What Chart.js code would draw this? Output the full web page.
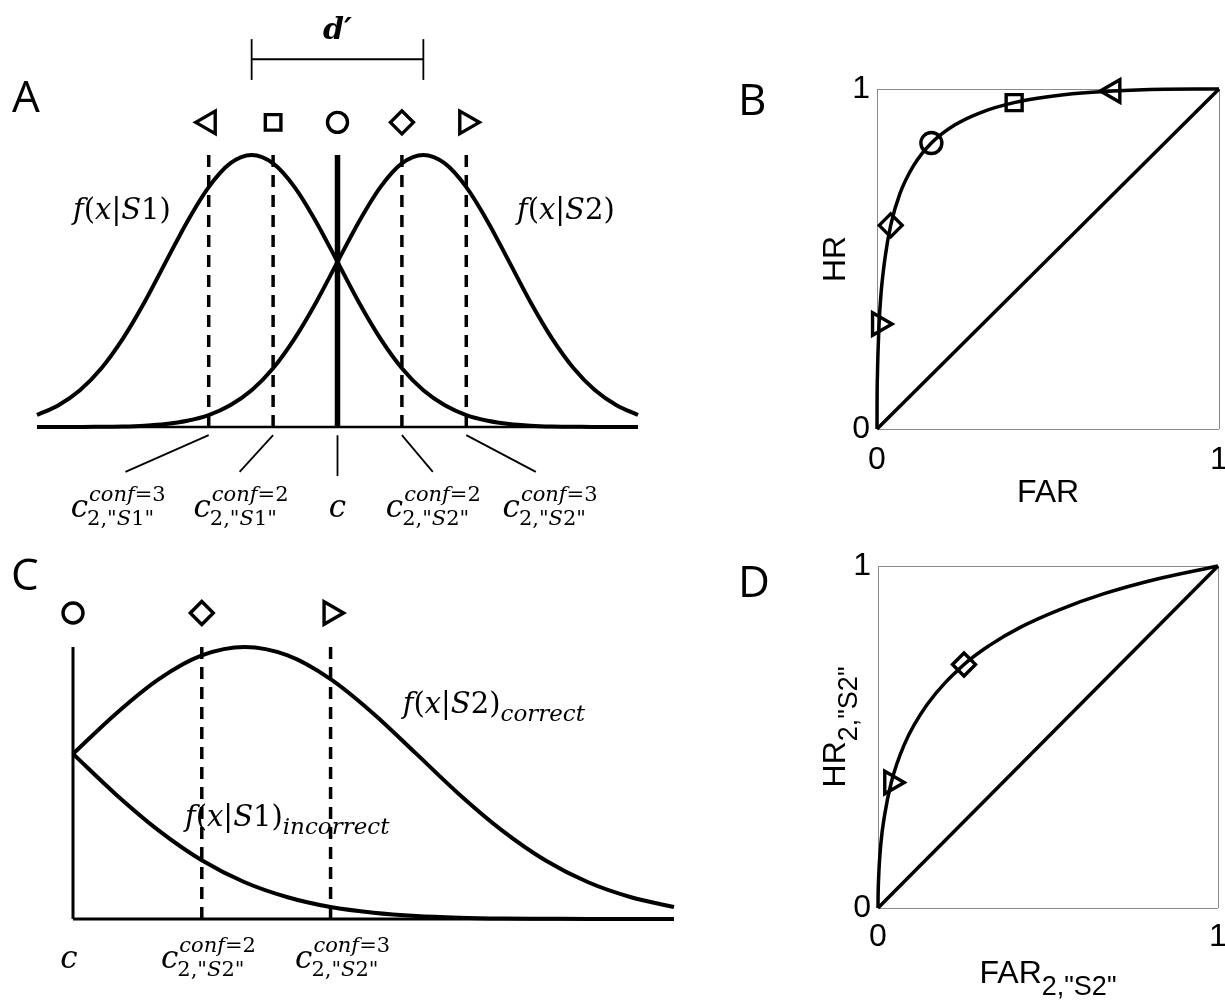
<!DOCTYPE html>
<html>
<head>
<meta charset="utf-8">
<script src="https://cdn.jsdelivr.net/npm/chart.js@4.4.1/dist/chart.umd.min.js"></script>
<style>
  html, body { margin: 0; padding: 0; background: #fff; overflow: hidden; }
  body { width: 1225px; height: 1004px; position: relative; }
  .panel { position: absolute; }
</style>
</head>
<body>
<div class="panel" style="left:0;top:0;width:660px;height:530px"><canvas id="chart-a"></canvas></div>
<div class="panel" style="left:730px;top:40px;width:495px;height:500px"><canvas id="chart-b"></canvas></div>
<div class="panel" style="left:0;top:540px;width:700px;height:464px"><canvas id="chart-c"></canvas></div>
<div class="panel" style="left:730px;top:520px;width:495px;height:484px"><canvas id="chart-d"></canvas></div>
<script>
/* ── data ── */

// A: decision axis (units of sigma), curve heights relative to peak
const xA  = [-3.5, -3.25, -3, -2.75, -2.5, -2.25, -2, -1.75, -1.5, -1.25, -1, -0.75, -0.5, -0.25, 0,
             0.25, 0.5, 0.75, 1, 1.25, 1.5, 1.75, 2, 2.25, 2.5, 2.75, 3, 3.25, 3.5];
const fS1 = [0.044, 0.080, 0.135, 0.216, 0.325, 0.458, 0.607, 0.755, 0.882, 0.969, 1, 0.969, 0.882, 0.755, 0.607,
             0.458, 0.325, 0.216, 0.135, 0.080, 0.044, 0.023, 0.011, 0.005, 0.002, 0.001, 0, 0, 0];
const fS2 = [0, 0, 0, 0.001, 0.002, 0.005, 0.011, 0.023, 0.044, 0.080, 0.135, 0.216, 0.325, 0.458, 0.607,
             0.755, 0.882, 0.969, 1, 0.969, 0.882, 0.755, 0.607, 0.458, 0.325, 0.216, 0.135, 0.080, 0.044];
const meansA = [-1, 1];
const critA  = [-1.5, -0.75, 0, 0.75, 1.5];

// C: right of c only
const xC         = [0, 0.25, 0.5, 0.75, 1, 1.25, 1.5, 1.75, 2, 2.25, 2.5, 2.75, 3, 3.25, 3.5];
const fCorrect   = [0.607, 0.755, 0.882, 0.969, 1, 0.969, 0.882, 0.755, 0.607, 0.458, 0.325, 0.216, 0.135, 0.080, 0.044];
const fIncorrect = [0.607, 0.458, 0.325, 0.216, 0.135, 0.080, 0.044, 0.023, 0.011, 0.005, 0.002, 0.001, 0, 0, 0];
const critC      = [0, 0.75, 1.5];

// B: type 1 ROC
const farB    = [0, 0.0001, 0.0002, 0.0013, 0.003, 0.006, 0.012, 0.023, 0.040, 0.067, 0.106, 0.159,
                 0.227, 0.309, 0.401, 0.5, 0.599, 0.691, 0.841, 0.933, 1];
const hrB     = [0, 0.023, 0.067, 0.159, 0.227, 0.309, 0.401, 0.5, 0.599, 0.692, 0.773, 0.841,
                 0.894, 0.933, 0.960, 0.977, 0.988, 0.994, 0.999, 1, 1];
const farPtsB = [0.006, 0.040, 0.159, 0.401, 0.691];
const hrPtsB  = [0.309, 0.599, 0.841, 0.960, 0.994];

// D: type 2 ROC for "S2" responses
const farD    = [0, 0.0002, 0.0015, 0.0085, 0.019, 0.039, 0.077, 0.144, 0.253, 0.328, 0.421, 0.533, 0.665, 0.821, 1];
const hrD     = [0, 0.027, 0.079, 0.189, 0.269, 0.367, 0.477, 0.594, 0.712, 0.768, 0.822, 0.872, 0.919, 0.962, 1];
const farPtsD = [0.039, 0.253];
const hrPtsD  = [0.367, 0.712];

/* ── helpers ── */
const black = '#000';

function serif(size, italic, bold) {
  return (italic ? 'italic ' : '') + (bold ? 'bold ' : '') + size + 'px "DejaVu Serif", serif';
}
function sans(size) {
  return size + 'px "Liberation Sans", Arial, sans-serif';
}

// runs: [[text, italic], ...]
function runsWidth(ctx, runs, size) {
  return runs.reduce((w, [t, it]) => { ctx.font = serif(size, it); return w + ctx.measureText(t).width; }, 0);
}
function drawRuns(ctx, runs, size, x, y) {
  runs.forEach(([t, it]) => {
    ctx.font = serif(size, it);
    ctx.fillText(t, x, y);
    x += ctx.measureText(t).width;
  });
  return x;
}
function fOf(n) {
  return [['f', true], ['(', false], ['x', true], ['|', false], ['S', true], [n + ')', false]];
}
// c with conf superscript and response subscript, centred on cx
function drawCrit(ctx, cx, base, conf, resp) {
  const main = [['c', true]];
  const sup  = conf ? [['conf', true], ['=' + conf, false]] : null;
  const sub  = resp ? [['2,"', false], ['S', true], [resp.slice(1) + '"', false]] : null;
  const wMain = runsWidth(ctx, main, 31);
  const wScr  = Math.max(sup ? runsWidth(ctx, sup, 21) : 0, sub ? runsWidth(ctx, sub, 21) : 0);
  const x0 = cx - (wMain + wScr) / 2;
  drawRuns(ctx, main, 31, x0, base);
  if (sup) drawRuns(ctx, sup, 21, x0 + wMain + 1, base - 16);
  if (sub) drawRuns(ctx, sub, 21, x0 + wMain - 1, base + 8);
}

function pts(xs, ys) { return xs.map((x, i) => ({ x, y: ys[i] })); }

function curve(xs, ys, width) {
  return { data: pts(xs, ys), showLine: true, borderColor: black, borderWidth: width,
           pointRadius: 0, cubicInterpolationMode: 'monotone', clip: false };
}
function seg(data, width, dash) {
  return { data, showLine: true, borderColor: black, borderWidth: width, borderDash: dash || [],
           pointRadius: 0, tension: 0, clip: false };
}
function markers(data, styles, rotations, radii) {
  return { data, showLine: false, pointStyle: styles, pointRotation: rotations, pointRadius: radii,
           pointBorderWidth: 3.4, pointBorderColor: black, pointBackgroundColor: 'rgba(0,0,0,0)', clip: false };
}

const baseOptions = (padding, scales) => ({
  responsive: true,
  maintainAspectRatio: false,
  animation: false,
  events: [],
  layout: { padding, autoPadding: false },
  plugins: { legend: { display: false }, tooltip: { enabled: false } },
  scales,
});

const hiddenScales = (xmin, xmax, ymin, ymax) => ({
  x: { type: 'linear', min: xmin, max: xmax, display: false },
  y: { type: 'linear', min: ymin, max: ymax, display: false },
});

/* ── A: two Gaussians with confidence criteria ── */
const markLevelA = 1.12;
const labelXA    = [-2.56, -1.13, 0, 1.11, 2.47];
const lineEndA   = [-2.47, -1.14, 0, 1.11, 2.31];
const critTextA  = [['3', 'S1'], ['2', 'S1'], null, ['2', 'S2'], ['3', 'S2']];

const notesA = {
  id: 'notesA',
  afterDraw(chart) {
    const { ctx, scales: { x, y } } = chart;
    ctx.save();
    ctx.fillStyle = black;
    ctx.textBaseline = 'alphabetic';
    ctx.font = '44px "Open Sans", sans-serif';
    ctx.fillText('A', 12, 112);
    ctx.textAlign = 'center';
    ctx.font = serif(30, true, true);
    ctx.fillText('d′', x.getPixelForValue(0), y.getPixelForValue(1.426));
    ctx.textAlign = 'left';
    drawRuns(ctx, fOf('1'), 29, x.getPixelForValue(-3.08), y.getPixelForValue(0.765));
    drawRuns(ctx, fOf('2'), 29, x.getPixelForValue(2.09), y.getPixelForValue(0.765));
    critTextA.forEach((t, i) => {
      drawCrit(ctx, x.getPixelForValue(labelXA[i]), y.getPixelForValue(-0.33), t && t[0], t && t[1]);
    });
    ctx.restore();
  }
};

new Chart(document.getElementById('chart-a'), {
  type: 'scatter',
  data: {
    datasets: [
      curve(xA, fS1, 4),
      curve(xA, fS2, 4),
      seg([{ x: xA[0], y: 0 }, { x: xA[xA.length - 1], y: 0 }], 2.5),
      ...critA.map(c => c === 0
        ? seg([{ x: c, y: 0 }, { x: c, y: 1 }], 5.5)
        : seg([{ x: c, y: 0 }, { x: c, y: 1 }], 3.5, [12, 8])),
      ...critA.map((c, i) => seg([{ x: c, y: -0.03 }, { x: lineEndA[i], y: c === 0 ? -0.18 : -0.165 }], 1.8)),
      seg(meansA.map(m => ({ x: m, y: 1.352 })), 1.8),
      ...meansA.map(m => seg([{ x: m, y: 1.276 }, { x: m, y: 1.426 }], 1.8)),
      markers(critA.map(c => ({ x: c, y: markLevelA })),
              ['triangle', 'rect', 'circle', 'rectRot', 'triangle'],
              [-90, 0, 0, 0, 90],
              [13, 11, 10, 11.5, 13]),
    ],
  },
  options: baseOptions({ left: 37, right: 22, top: 19, bottom: 21.4 }, hiddenScales(-3.5, 3.5, -0.3, 1.5)),
  plugins: [notesA],
});

/* ── C: distributions right of c ── */
const markLevelC = 1.125;
const labelXC    = [-0.023, 0.786, 1.567];
const critTextC  = [null, ['2', 'S2'], ['3', 'S2']];

const notesC = {
  id: 'notesC',
  afterDraw(chart) {
    const { ctx, scales: { x, y } } = chart;
    ctx.save();
    ctx.fillStyle = black;
    ctx.textBaseline = 'alphabetic';
    ctx.font = '44px "Open Sans", sans-serif';
    ctx.fillText('C', 11, 50);
    let px = drawRuns(ctx, fOf('2'), 29, x.getPixelForValue(1.92), y.getPixelForValue(0.757));
    drawRuns(ctx, [['correct', true]], 23, px, y.getPixelForValue(0.757) + 8);
    px = drawRuns(ctx, fOf('1'), 29, x.getPixelForValue(0.652), y.getPixelForValue(0.342));
    drawRuns(ctx, [['incorrect', true]], 23, px, y.getPixelForValue(0.342) + 8);
    critTextC.forEach((t, i) => {
      drawCrit(ctx, x.getPixelForValue(labelXC[i]), y.getPixelForValue(-0.18), t && t[0], t && t[1]);
    });
    ctx.restore();
  }
};

new Chart(document.getElementById('chart-c'), {
  type: 'scatter',
  data: {
    datasets: [
      curve(xC, fCorrect, 4),
      curve(xC, fIncorrect, 4),
      seg([{ x: xC[0], y: 0 }, { x: xC[xC.length - 1], y: 0 }], 3),
      seg([{ x: 0, y: 0 }, { x: 0, y: 1 }], 3),
      ...critC.filter(c => c > 0).map(c => seg([{ x: c, y: 0 }, { x: c, y: 1 }], 3.5, [12, 8])),
      markers(critC.map(c => ({ x: c, y: markLevelC })),
              ['circle', 'rectRot', 'triangle'],
              [0, 0, 90],
              [10, 11.5, 13]),
    ],
  },
  options: baseOptions({ left: 73, right: 26, top: 52.6, bottom: 71.4 }, hiddenScales(0, 3.5, -0.05, 1.2)),
  plugins: [notesC],
});

/* ── B / D: ROC boxes ── */
function rocScales(yWidth, xHeight, xPad) {
  const tickCommon = { stepSize: 1, color: black, font: { family: '"Liberation Sans", Arial, sans-serif', size: 32 },
                       maxRotation: 0, autoSkip: false };
  const grid = { color: '#8a8a8a', lineWidth: 1, drawTicks: false };
  return {
    x: { type: 'linear', min: 0, max: 1, grid, border: { display: false },
         ticks: Object.assign({ padding: xPad }, tickCommon),
         afterFit: s => { s.height = xHeight; s.paddingLeft = 0; s.paddingRight = 0; } },
    y: { type: 'linear', min: 0, max: 1, grid, border: { display: false },
         ticks: Object.assign({ padding: 7 }, tickCommon),
         afterFit: s => { s.width = yWidth; s.paddingTop = 0; s.paddingBottom = 0; } },
  };
}

// text with optional subscript; rotated when vertical
function axisTitle(ctx, main, sub, cx, base, vertical) {
  ctx.save();
  ctx.translate(cx, base);
  if (vertical) ctx.rotate(-Math.PI / 2);
  ctx.font = sans(32);
  const wm = ctx.measureText(main).width;
  ctx.font = sans(27);
  const ws = sub ? ctx.measureText(sub).width : 0;
  let x = -(wm + ws) / 2;
  ctx.font = sans(32);
  ctx.fillText(main, x, 0);
  if (sub) { ctx.font = sans(27); ctx.fillText(sub, x + wm, 12); }
  ctx.restore();
}

const notesB = {
  id: 'notesB',
  afterDraw(chart) {
    const { ctx, chartArea: a } = chart;
    ctx.save();
    ctx.fillStyle = black;
    ctx.textBaseline = 'alphabetic';
    ctx.font = '44px "Open Sans", sans-serif';
    ctx.fillText('B', 8, 75);
    axisTitle(ctx, 'FAR', null, (a.left + a.right) / 2, a.bottom + 73, false);
    axisTitle(ctx, 'HR', null, a.left - 32, (a.top + a.bottom) / 2, true);
    ctx.restore();
  }
};

new Chart(document.getElementById('chart-b'), {
  type: 'scatter',
  data: {
    datasets: [
      curve(farB, hrB, 3.5),
      seg([{ x: 0, y: 0 }, { x: 1, y: 1 }], 3.5),
      markers(pts(farPtsB, hrPtsB),
              ['triangle', 'rectRot', 'circle', 'rect', 'triangle'],
              [90, 0, 0, 0, -90],
              [13, 11.5, 10.5, 11.3, 13]),
    ],
  },
  options: baseOptions({ left: 0, right: 6, top: 49, bottom: 0 }, rocScales(147, 111, 12)),
  plugins: [notesB],
});

const notesD = {
  id: 'notesD',
  afterDraw(chart) {
    const { ctx, chartArea: a } = chart;
    ctx.save();
    ctx.fillStyle = black;
    ctx.textBaseline = 'alphabetic';
    ctx.font = '44px "Open Sans", sans-serif';
    ctx.fillText('D', 8, 77);
    axisTitle(ctx, 'FAR', '2,"S2"', (a.left + a.right) / 2, a.bottom + 75, false);
    axisTitle(ctx, 'HR', '2,"S2"', a.left - 33, (a.top + a.bottom) / 2 - 10, true);
    ctx.restore();
  }
};

new Chart(document.getElementById('chart-d'), {
  type: 'scatter',
  data: {
    datasets: [
      curve(farD, hrD, 3.5),
      seg([{ x: 0, y: 0 }, { x: 1, y: 1 }], 3.5),
      markers(pts(farPtsD, hrPtsD), ['triangle', 'rectRot'], [90, 0], [13, 11.5]),
    ],
  },
  options: baseOptions({ left: 0, right: 7, top: 46, bottom: 0 }, rocScales(148, 96, 10)),
  plugins: [notesD],
});
</script>
</body>
</html>
